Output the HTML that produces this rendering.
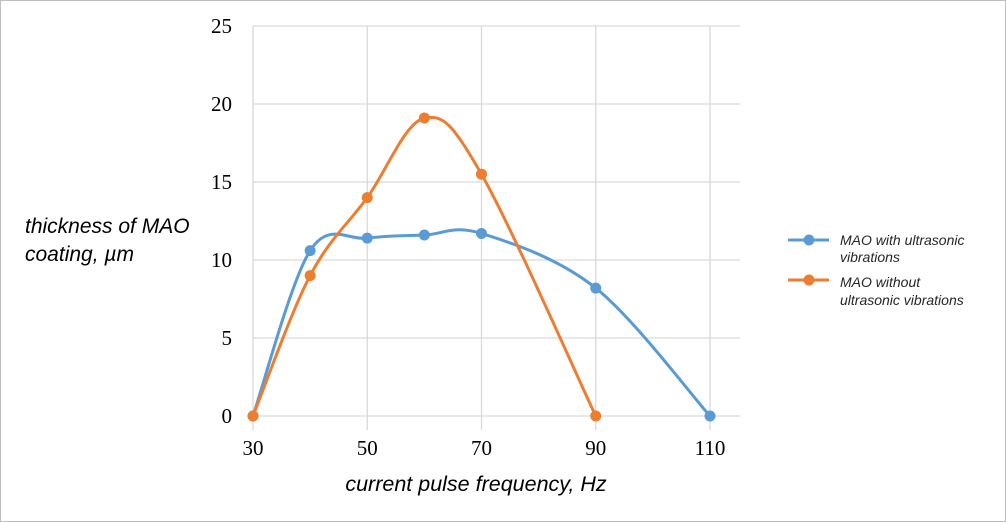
<!DOCTYPE html>
<html><head><meta charset="utf-8"><style>
body{margin:0;background:#fff;}
svg{display:block;}
</style></head><body>
<svg id="chart" width="1006" height="522" xmlns="http://www.w3.org/2000/svg">
<rect x="0.5" y="0.5" width="1005" height="521" fill="#fff" stroke="#bfbfbf"/>
<g id="grid"></g><g id="ticks"></g><g id="series"></g>
<text x="25" y="233" font-family="Liberation Sans, sans-serif" font-style="italic" font-size="21" fill="#000"><tspan x="25">thickness of MAO</tspan><tspan x="25" dy="28">coating, µm</tspan></text>
<text x="476" y="491" font-family="Liberation Sans, sans-serif" font-style="italic" font-size="21.5" text-anchor="middle" fill="#000">current pulse frequency, Hz</text>
<g font-family="Liberation Sans, sans-serif" font-style="italic" font-size="14" fill="#262626">
<g>
<line x1="788" y1="240" x2="829" y2="240" stroke="#5b9bd5" stroke-width="3"/><circle cx="809" cy="240" r="5.5" fill="#5b9bd5"/>
<text x="840" y="245">MAO with ultrasonic</text><text x="840" y="262">vibrations</text></g>
<g>
<line x1="788" y1="280" x2="829" y2="280" stroke="#ed7d31" stroke-width="3"/><circle cx="809" cy="280" r="5.5" fill="#ed7d31"/>
<text x="840" y="287">MAO without</text><text x="840" y="305">ultrasonic vibrations</text></g>
</g>
</svg>
<script>
const xTicks=[30,50,70,90,110];
const yTicks=[0,5,10,15,20,25];
const withX=[30,40,50,60,70,90,110];
const withY=[0,10.6,11.4,11.6,11.7,8.2,0];
const withoutX=[30,40,50,60,70,90];
const withoutY=[0,9,14,19.1,15.5,0];
const NS="http://www.w3.org/2000/svg";
const X=v=>253+(v-30)*(710-253)/80;
const Y=v=>416-v*(416-26)/25;
function mk(t,a,p){const e=document.createElementNS(NS,t);for(const k in a)e.setAttribute(k,a[k]);p.appendChild(e);return e;}
const grid=document.getElementById('grid'),ticks=document.getElementById('ticks'),ser=document.getElementById('series');
yTicks.forEach(v=>{const l=mk('line',{x1:253,x2:740,y1:Y(v),y2:Y(v),stroke:'#d9d9d9','stroke-width':1.3},grid);


const t=mk('text',{x:232,y:Y(v)+7,'text-anchor':'end','font-family':'Liberation Serif, serif','font-size':21},ticks);t.textContent=v;

});
xTicks.forEach(v=>{const l=mk('line',{x1:X(v),x2:X(v),y1:26,y2:430,stroke:'#d9d9d9','stroke-width':1.3},grid);


const t=mk('text',{x:X(v),y:455,'text-anchor':'middle','font-family':'Liberation Serif, serif','font-size':21},ticks);t.textContent=v;

});
function path(xs,ys){const p=xs.map((x,i)=>[X(x),Y(ys[i])]);let d=`M${p[0][0]},${p[0][1]}`;
for(let i=0;i<p.length-1;i++){const p0=p[i-1]||p[i],p1=p[i],p2=p[i+1],p3=p[i+2]||p[i+1];
d+=` C${p1[0]+(p2[0]-p0[0])/6},${p1[1]+(p2[1]-p0[1])/6} ${p2[0]-(p3[0]-p1[0])/6},${p2[1]-(p3[1]-p1[1])/6} ${p2[0]},${p2[1]}`;}return d;}
function series(xs,ys,c,name){const pa=mk('path',{d:path(xs,ys),fill:'none',stroke:c,'stroke-width':3},ser);


xs.forEach((x,i)=>{const ci=mk('circle',{cx:X(x),cy:Y(ys[i]),r:5.5,fill:c},ser);

});}
series(withX,withY,'#5b9bd5','with-ultrasonic');
series(withoutX,withoutY,'#ed7d31','without-ultrasonic');
</script>
</body></html>
